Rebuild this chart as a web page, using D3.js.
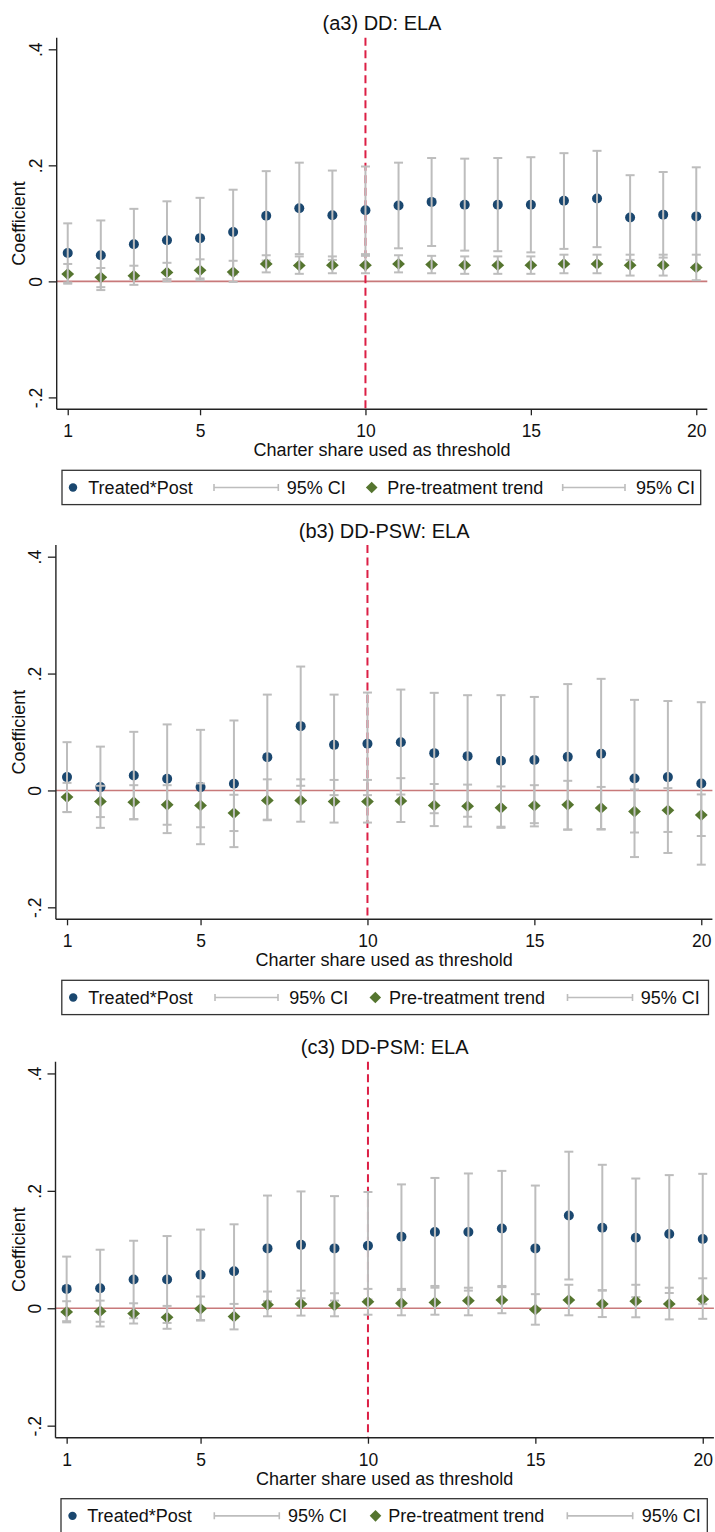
<!DOCTYPE html>
<html>
<head>
<meta charset="utf-8">
<script src="https://cdn.jsdelivr.net/npm/d3@7"></script>
<style>
  html, body { margin: 0; padding: 0; background: #fff; }
  svg { display: block; font-family: "Liberation Sans", Arial, sans-serif; }
</style>
</head>
<body>
<svg id="chart" width="715" height="1532"></svg>
<script>
// ---------- DATA ----------
const thresholds = [1,2,3,4,5,6,7,8,9,10,11,12,13,14,15,16,17,18,19,20];
const xTickValues = [1, 5, 10, 15, 20];
const yTickValues = [-0.2, 0, 0.2, 0.4];
const yTickLabels = ["-.2", "0", ".2", ".4"];
const panelTitles = ["(a3) DD: ELA", "(b3) DD-PSW: ELA", "(c3) DD-PSM: ELA"];
const legendLabels = ["Treated*Post", "95% CI", "Pre-treatment trend", "95% CI"];
const xAxisTitle = "Charter share used as threshold";
const yAxisTitle = "Coefficient";
const cutoff = 10;

// Panel (a3) DD
const aEst = [0.049, 0.045, 0.064, 0.071, 0.0745, 0.085, 0.113, 0.126, 0.114, 0.1226, 0.1307, 0.137, 0.132, 0.132, 0.132, 0.139, 0.1427, 0.110, 0.115, 0.112];
const aHi  = [0.100, 0.105, 0.125, 0.138, 0.144, 0.158, 0.190, 0.2046, 0.191, 0.198, 0.2046, 0.2126, 0.2115, 0.2126, 0.214, 0.221, 0.225, 0.183, 0.1885, 0.1966];
const aLo  = [-0.002, -0.015, 0.004, 0.004, 0.005, 0.012, 0.036, 0.047, 0.037, 0.047, 0.057, 0.061, 0.053, 0.052, 0.050, 0.056, 0.059, 0.037, 0.041, 0.027];
const aPEst = [0.0126, 0.007, 0.0097, 0.0155, 0.019, 0.016, 0.030, 0.0275, 0.028, 0.028, 0.030, 0.029, 0.028, 0.028, 0.028, 0.030, 0.030, 0.028, 0.028, 0.024];
const aPHi  = [0.030, 0.023, 0.027, 0.032, 0.038, 0.0355, 0.045, 0.043, 0.043, 0.044, 0.045, 0.044, 0.043, 0.043, 0.043, 0.046, 0.046, 0.046, 0.046, 0.046];
const aPLo  = [-0.004, -0.010, -0.006, 0.000, 0.002, -0.001, 0.0155, 0.013, 0.014, 0.014, 0.0155, 0.014, 0.013, 0.013, 0.013, 0.014, 0.014, 0.010, 0.010, 0.002];

// Panel (b3) DD-PSW
const bEst = [0.0228, 0.0057, 0.0256, 0.020, 0.0057, 0.0114, 0.057, 0.110, 0.078, 0.0798, 0.0826, 0.0638, 0.0587, 0.0507, 0.052, 0.0575, 0.0627, 0.0205, 0.0228, 0.012];
const bHi  = [0.0826, 0.075, 0.1003, 0.113, 0.1037, 0.1197, 0.164, 0.212, 0.164, 0.1675, 0.1726, 0.167, 0.163, 0.163, 0.160, 0.182, 0.191, 0.155, 0.153, 0.151];
const bLo  = [-0.037, -0.064, -0.049, -0.073, -0.092, -0.097, -0.050, 0.008, -0.008, -0.008, -0.007, -0.039, -0.045, -0.062, -0.056, -0.067, -0.066, -0.114, -0.107, -0.127];
const bPEst = [-0.0114, -0.0188, -0.020, -0.0245, -0.0256, -0.0387, -0.017, -0.017, -0.019, -0.019, -0.018, -0.0256, -0.027, -0.0296, -0.026, -0.0245, -0.030, -0.036, -0.034, -0.042];
const bPHi  = [0.013, 0.008, 0.009, 0.009, 0.012, -0.0074, 0.019, 0.019, 0.018, 0.018, 0.021, 0.011, 0.010, 0.0068, 0.009, 0.0165, 0.006, 0.0017, 0.004, -0.0068];
const bPLo  = [-0.037, -0.0456, -0.0496, -0.0587, -0.063, -0.0695, -0.051, -0.0535, -0.055, -0.055, -0.054, -0.061, -0.062, -0.064, -0.0615, -0.067, -0.067, -0.072, -0.071, -0.078];

// Panel (c3) DD-PSM
const cEst = [0.033, 0.034, 0.049, 0.049, 0.057, 0.063, 0.102, 0.108, 0.102, 0.1066, 0.122, 0.130, 0.130, 0.136, 0.102, 0.158, 0.137, 0.120, 0.1265, 0.118];
const cHi  = [0.088, 0.0997, 0.115, 0.123, 0.134, 0.143, 0.192, 0.199, 0.191, 0.198, 0.211, 0.222, 0.2296, 0.234, 0.209, 0.2667, 0.2444, 0.221, 0.2268, 0.229];
const cLo  = [-0.022, -0.031, -0.017, -0.025, -0.020, -0.017, 0.012, 0.017, 0.013, 0.015, 0.033, 0.038, 0.030, 0.038, -0.005, 0.049, 0.030, 0.019, 0.026, 0.007];
const cPEst = [-0.0063, -0.005, -0.009, -0.0154, -0.001, -0.014, 0.006, 0.0074, 0.005, 0.011, 0.0085, 0.010, 0.013, 0.014, -0.0023, 0.014, 0.0074, 0.012, 0.0074, 0.0154];
const cPHi  = [0.012, 0.013, 0.0085, 0.004, 0.020, 0.0074, 0.0285, 0.030, 0.0256, 0.033, 0.031, 0.035, 0.035, 0.036, 0.024, 0.040, 0.031, 0.040, 0.035, 0.051];
const cPLo  = [-0.024, -0.023, -0.026, -0.035, -0.021, -0.036, -0.0137, -0.0125, -0.0137, -0.011, -0.012, -0.011, -0.012, -0.0085, -0.028, -0.012, -0.015, -0.0154, -0.019, -0.018];

// ---------- LAYOUT / STYLE ----------
const COL = {
  blue: "#1a476f",
  green: "#55752f",
  ci: "#bdbdbd",
  zero: "#c8797a",
  cut: "#dc1f45",
  axis: "#222",
  text: "#111"
};
const panels = [
  { title: panelTitles[0], est: aEst, lo: aLo, hi: aHi, pEst: aPEst, pLo: aPLo, pHi: aPHi,
    left: 56.7, right: 707.3, top: 37.7, bottom: 409.3,
    legend: { x: 62, w: 638.7, off: [11, 26.3, 152, 216.3, 224.7, 309.7, 325.3, 500.7, 563, 574] } },
  { title: panelTitles[1], est: bEst, lo: bLo, hi: bHi, pEst: bPEst, pLo: bPLo, pHi: bPHi,
    left: 55.9, right: 712.4, top: 545, bottom: 919.3,
    legend: { x: 61.8, w: 646.7, off: [11.4, 26.5, 153.2, 216.2, 227.4, 313.5, 327.2, 505.7, 570.7, 578.9] } },
  { title: panelTitles[2], est: cEst, lo: cLo, hi: cHi, pEst: cPEst, pLo: cPLo, pHi: cPHi,
    left: 55.5, right: 713.9, top: 1061.7, bottom: 1437.7,
    legend: { x: 61, w: 646.3, off: [11.5, 26.3, 153.3, 218.3, 227, 314.5, 327.3, 506.3, 571.7, 580.7] } }
];

const svg = d3.select("#chart");
svg.append("rect").attr("width", 715).attr("height", 1532).attr("fill", "#fff");

function drawDiamond(g, cx, cy, hw, hh, fill) {
  g.append("path")
    .attr("d", `M${cx},${cy - hh}L${cx + hw},${cy}L${cx},${cy + hh}L${cx - hw},${cy}Z`)
    .attr("fill", fill);
}

function drawCaps(g, xs, yLo, yHi, capW) {
  const grp = g.append("g").attr("stroke", COL.ci).attr("stroke-width", 2).attr("fill", "none");
  grp.selectAll("line.v").data(xs).join("line").attr("class", "v")
    .attr("x1", d => d.x).attr("x2", d => d.x)
    .attr("y1", d => yLo(d)).attr("y2", d => yHi(d));
  grp.selectAll("line.t").data(xs).join("line").attr("class", "t")
    .attr("x1", d => d.x - capW).attr("x2", d => d.x + capW)
    .attr("y1", d => yHi(d)).attr("y2", d => yHi(d));
  grp.selectAll("line.b").data(xs).join("line").attr("class", "b")
    .attr("x1", d => d.x - capW).attr("x2", d => d.x + capW)
    .attr("y1", d => yLo(d)).attr("y2", d => yLo(d));
}

panels.forEach(p => {
  const x = d3.scaleLinear().domain([0.6667, 20.3333]).range([p.left, p.right]);
  const y = d3.scaleLinear().domain([-0.2205, 0.42]).range([p.bottom, p.top]);
  const g = svg.append("g");
  const plotCx = (p.left + p.right) / 2;

  // title
  g.append("text").attr("x", plotCx).attr("y", p.top - 7.5)
    .attr("text-anchor", "middle").attr("font-size", 20).attr("fill", COL.text)
    .text(p.title);

  // reference lines
  g.append("line").attr("x1", p.left).attr("x2", p.right)
    .attr("y1", y(0)).attr("y2", y(0))
    .attr("stroke", COL.zero).attr("stroke-width", 1.6);
  g.append("line").attr("x1", x(cutoff)).attr("x2", x(cutoff))
    .attr("y1", p.top).attr("y2", p.bottom)
    .attr("stroke", COL.cut).attr("stroke-width", 2).attr("stroke-dasharray", "8,4.5");

  // y axis
  const yAx = g.append("g").attr("transform", `translate(${p.left},0)`)
    .call(d3.axisLeft(y).tickValues(yTickValues).tickSize(8).tickSizeOuter(0)
      .tickFormat((d, i) => yTickLabels[i]));
  yAx.select(".domain").attr("stroke", COL.axis).attr("stroke-width", 1.4)
    .attr("d", `M0,${p.bottom}V${p.top}`);
  yAx.selectAll(".tick line").attr("stroke", COL.axis).attr("stroke-width", 1.3);
  yAx.selectAll(".tick text")
    .attr("x", 0).attr("dy", 0)
    .attr("transform", "translate(-15,0) rotate(-90)")
    .attr("text-anchor", "middle")
    .attr("font-size", 17.5).attr("font-family", "Liberation Sans, Arial, sans-serif")
    .attr("fill", COL.text);

  // x axis
  const xAx = g.append("g").attr("transform", `translate(0,${p.bottom})`)
    .call(d3.axisBottom(x).tickValues(xTickValues).tickSize(6).tickSizeOuter(0)
      .tickFormat(d3.format("d")));
  xAx.select(".domain").attr("stroke", COL.axis).attr("stroke-width", 1.4)
    .attr("d", `M${p.left},0H${p.right}`);
  xAx.selectAll(".tick line").attr("stroke", COL.axis).attr("stroke-width", 1.3);
  xAx.selectAll(".tick text").attr("y", 28).attr("dy", 0)
    .attr("font-size", 17.5).attr("font-family", "Liberation Sans, Arial, sans-serif")
    .attr("fill", COL.text);

  // axis titles
  g.append("text").attr("x", plotCx).attr("y", p.bottom + 47)
    .attr("text-anchor", "middle").attr("font-size", 18).attr("fill", COL.text)
    .text(xAxisTitle);
  g.append("text")
    .attr("transform", `translate(24.5,${(p.top + p.bottom) / 2}) rotate(-90)`)
    .attr("text-anchor", "middle").attr("font-size", 18).attr("fill", COL.text)
    .text(yAxisTitle);

  // data
  const main = thresholds.map((t, i) => ({ x: x(t), est: p.est[i], lo: p.lo[i], hi: p.hi[i] }));
  const pre = thresholds.map((t, i) => ({ x: x(t), est: p.pEst[i], lo: p.pLo[i], hi: p.pHi[i] }));

  // Treated*Post points
  g.append("g").selectAll("circle").data(main).join("circle")
    .attr("cx", d => d.x).attr("cy", d => y(d.est)).attr("r", 5)
    .attr("fill", COL.blue);
  drawCaps(g, main, d => y(d.lo), d => y(d.hi), 4.5);

  // Pre-treatment trend
  const dg = g.append("g");
  pre.forEach(d => drawDiamond(dg, d.x, y(d.est), 6.4, 5.9, COL.green));
  drawCaps(g, pre, d => y(d.lo), d => y(d.hi), 4.5);

  // legend
  const L = p.legend;
  const ly = p.bottom + 61;
  const lh = 34.3;
  const cy = ly + lh / 2;
  const lg = g.append("g");
  lg.append("rect").attr("x", L.x).attr("y", ly).attr("width", L.w).attr("height", lh)
    .attr("fill", "#fff").attr("stroke", "#333").attr("stroke-width", 1.3);
  const o = L.off;
  lg.append("circle").attr("cx", L.x + o[0]).attr("cy", cy).attr("r", 4.2).attr("fill", COL.blue);
  lg.append("text").attr("x", L.x + o[1]).attr("y", cy + 6.4).attr("font-size", 18)
    .attr("fill", COL.text).text(legendLabels[0]);
  function ciSym(x1, x2) {
    lg.append("path").attr("d", `M${x1},${cy}H${x2}M${x1},${cy - 3.5}V${cy + 3.5}M${x2},${cy - 3.5}V${cy + 3.5}`)
      .attr("stroke", COL.ci).attr("stroke-width", 1.6).attr("fill", "none");
  }
  ciSym(L.x + o[2], L.x + o[3]);
  lg.append("text").attr("x", L.x + o[4]).attr("y", cy + 6.4).attr("font-size", 18)
    .attr("fill", COL.text).text(legendLabels[1]);
  drawDiamond(lg, L.x + o[5], cy, 5.8, 5.8, COL.green);
  lg.append("text").attr("x", L.x + o[6]).attr("y", cy + 6.4).attr("font-size", 18)
    .attr("fill", COL.text).text(legendLabels[2]);
  ciSym(L.x + o[7], L.x + o[8]);
  lg.append("text").attr("x", L.x + o[9]).attr("y", cy + 6.4).attr("font-size", 18)
    .attr("fill", COL.text).text(legendLabels[3]);
});
</script>
</body>
</html>
